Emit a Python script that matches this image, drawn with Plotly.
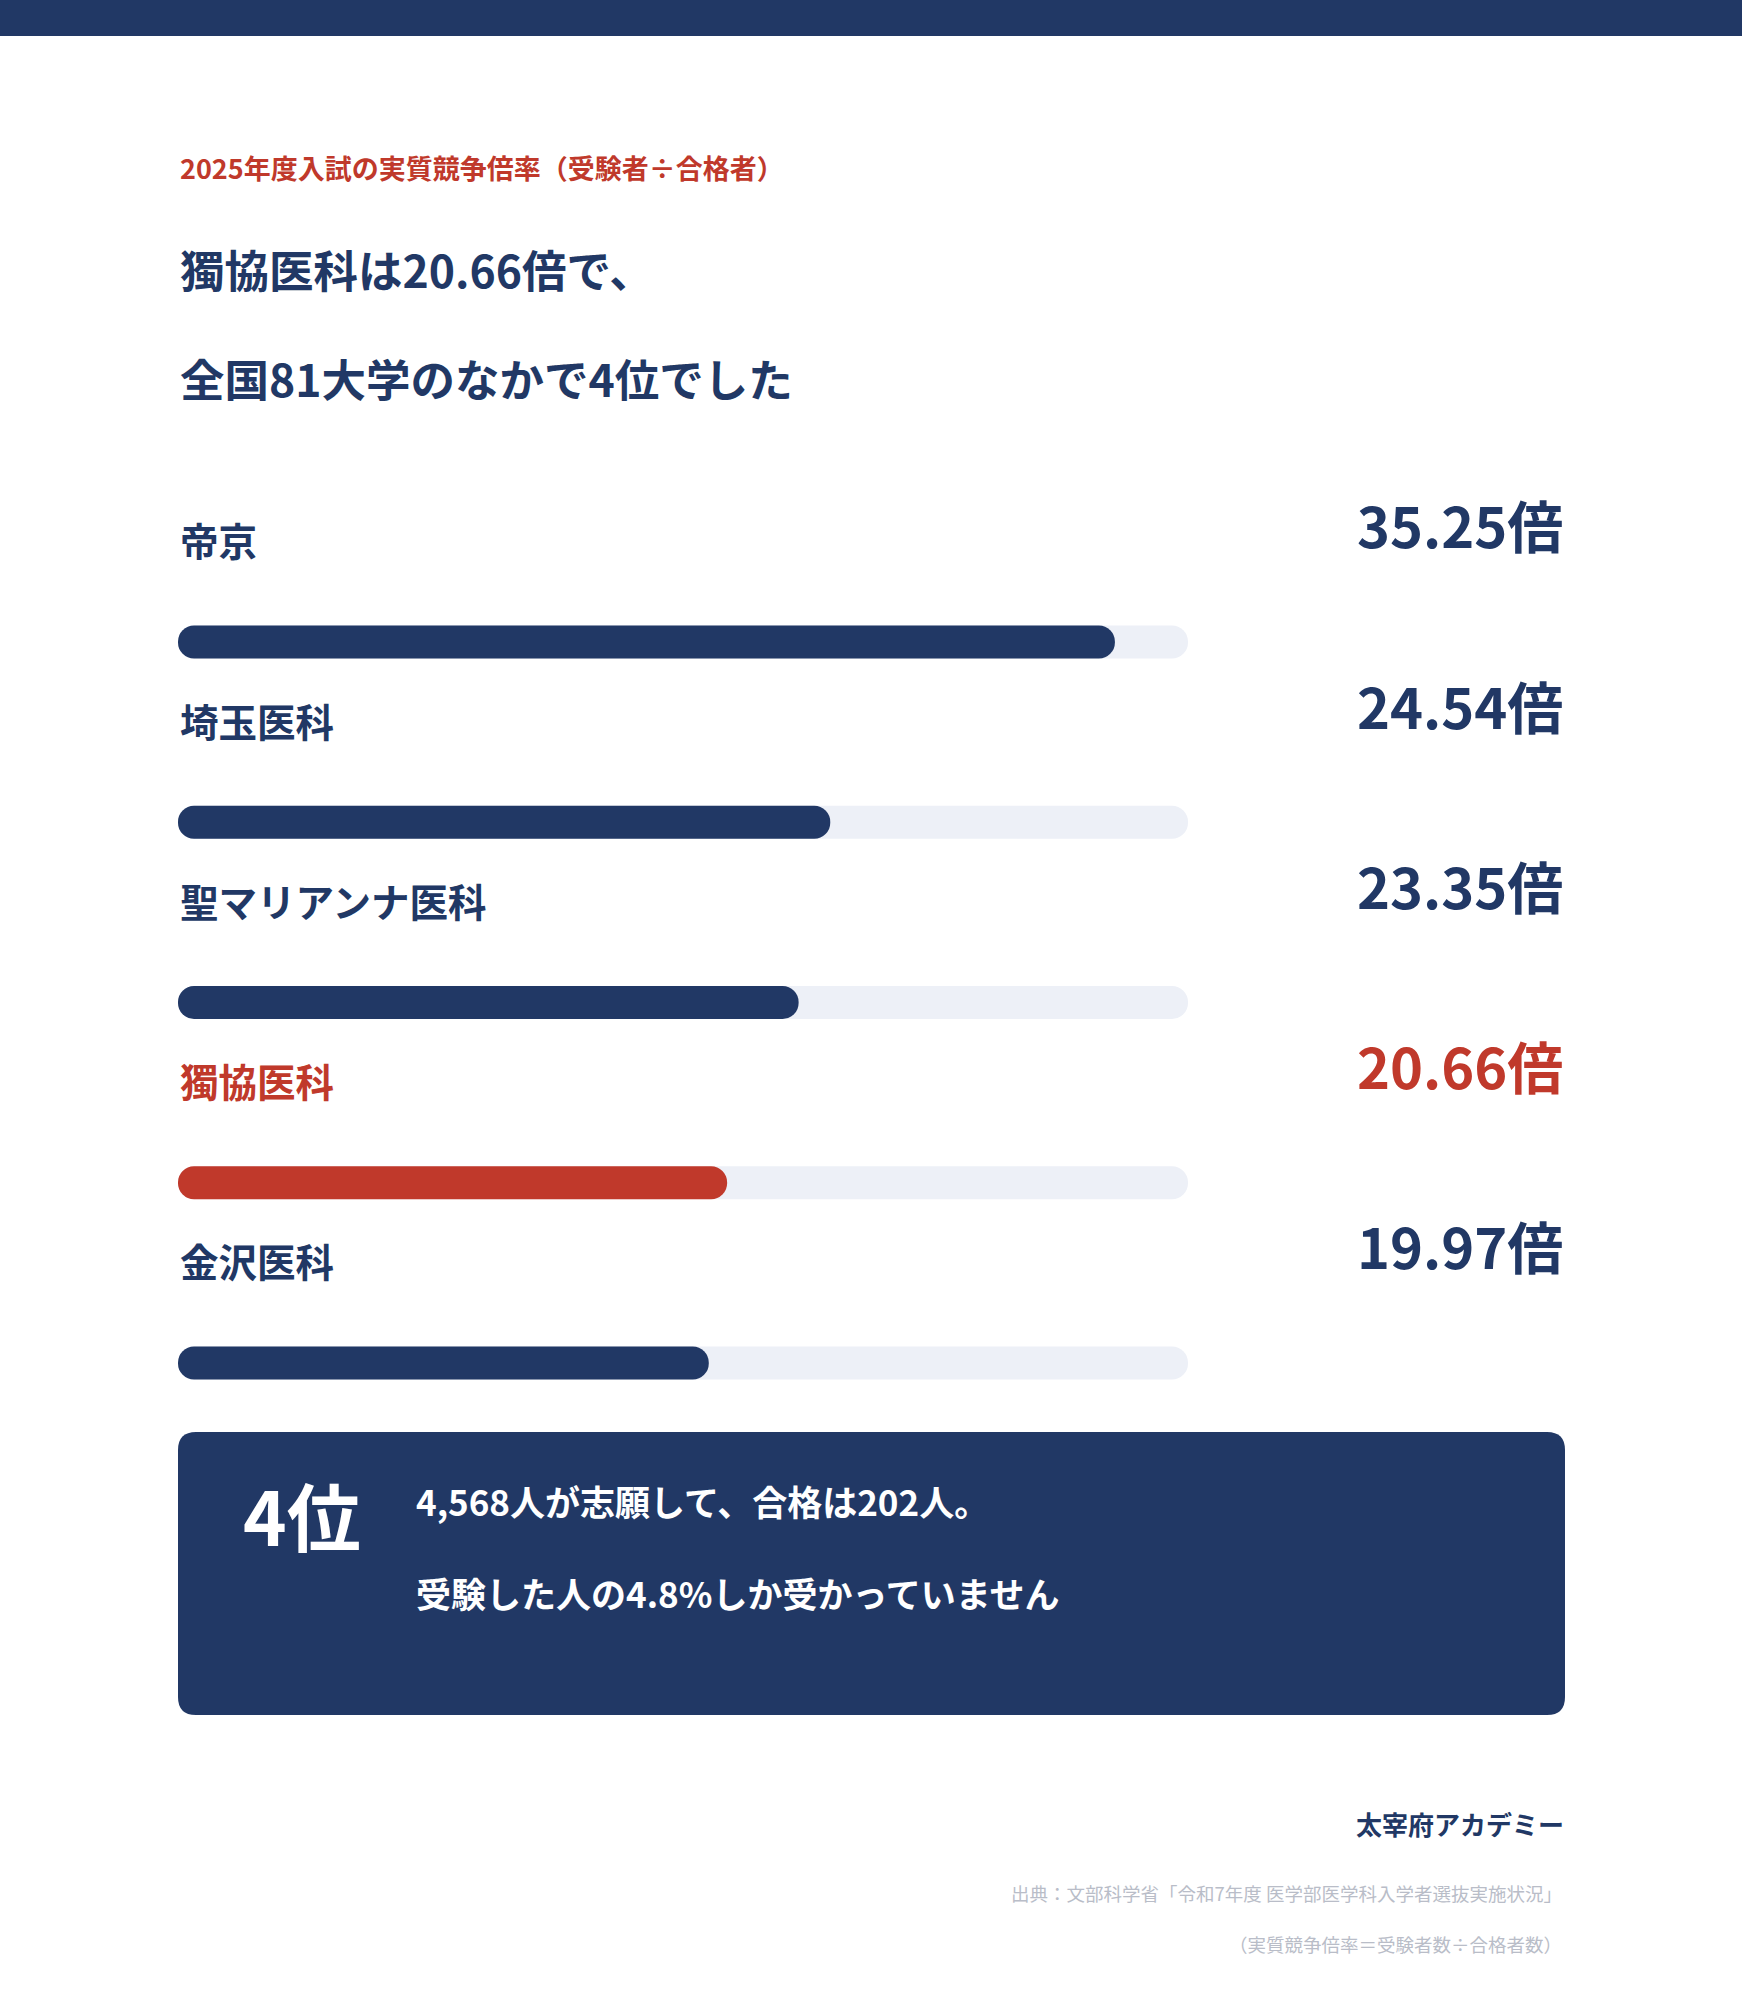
import plotly.graph_objects as go

# ---- data ----
universities = ["帝京", "埼玉医科", "聖マリアンナ医科", "獨協医科", "金沢医科"]
ratios = [35.25, 24.54, 23.35, 20.66, 19.97]
highlight = "獨協医科"
scale_max = 38

kicker = "2025年度入試の実質競争倍率（受験者÷合格者）"
headline = ["獨協医科は20.66倍で、", "全国81大学のなかで4位でした"]
rank_label = "4位"
box_lines = ["4,568人が志願して、合格は202人。", "受験した人の4.8%しか受かっていません"]
brand = "太宰府アカデミー"
sources = ["出典：文部科学省「令和7年度 医学部医学科入学者選抜実施状況」",
           "（実質競争倍率＝受験者数÷合格者数）"]

# ---- style ----
W, H = 1742, 2000
NAVY = "#213865"
RED = "#c0392b"
TRACK = "#edf0f7"
GRAY = "#b9bdc8"
FONT = "Noto Sans CJK JP"

X0, X1 = 178, 1188          # track pixel extent
ROW0, ROWSTEP = 642, 180.25  # first bar centre, row pitch (px)
BAR_PX = 33

bar_w = BAR_PX / ROWSTEP
n = len(universities)
rows = list(range(n))
colors = [RED if u == highlight else NAVY for u in universities]

Y_LO = -1.0
y_top_px = ROW0 + Y_LO * ROWSTEP
y_bot_px = ROW0 + (n - 0.5) * ROWSTEP

fig = go.Figure()

def pill(values, color):
    fig.add_trace(go.Bar(y=rows, x=values, base=[0] * n, orientation="h", width=bar_w,
                         marker=dict(color=color, cornerradius="50%", line=dict(width=0)),
                         hoverinfo="skip", showlegend=False))

pill([scale_max] * n, TRACK)   # background tracks
pill(ratios, colors)           # value bars

# hidden pixel axes for decoration
fig.add_trace(go.Scatter(x=[0, W], y=[0, H], xaxis="x2", yaxis="y2", mode="markers",
                         marker=dict(opacity=0), hoverinfo="skip", showlegend=False))

fig.update_layout(
    width=W, height=H, margin=dict(l=0, r=0, t=0, b=0),
    paper_bgcolor="white", plot_bgcolor="rgba(0,0,0,0)",
    barmode="overlay", font=dict(family=FONT, color=NAVY),
    xaxis=dict(domain=[X0 / W, X1 / W], range=[0, scale_max], visible=False, fixedrange=True),
    yaxis=dict(domain=[1 - y_bot_px / H, 1 - y_top_px / H], range=[n - 0.5, Y_LO],
               visible=False, fixedrange=True),
    xaxis2=dict(domain=[0, 1], range=[0, W], visible=False, anchor="y2", fixedrange=True),
    yaxis2=dict(domain=[0, 1], range=[H, 0], visible=False, anchor="x2", fixedrange=True),
)

shapes = [
    dict(type="rect", xref="x2", yref="y2", x0=0, x1=W, y0=0, y1=36,
         fillcolor=NAVY, line=dict(width=0), layer="below"),
]
bx0, bx1, by0, by1, rr = 178, 1565, 1432, 1715, 18
path = (f"M {bx0+rr},{by0} L {bx1-rr},{by0} Q {bx1},{by0} {bx1},{by0+rr} "
        f"L {bx1},{by1-rr} Q {bx1},{by1} {bx1-rr},{by1} L {bx0+rr},{by1} "
        f"Q {bx0},{by1} {bx0},{by1-rr} L {bx0},{by0+rr} Q {bx0},{by0} {bx0+rr},{by0} Z")
shapes.append(dict(type="path", xref="x2", yref="y2", path=path,
                   fillcolor=NAVY, line=dict(width=0), layer="below"))
fig.update_layout(shapes=shapes)

ann = []
def txt(x, y, s, size, color=NAVY, weight=700, xanchor="left", xref="x2", yref="y2"):
    ann.append(dict(x=x, y=y, xref=xref, yref=yref, text=s, showarrow=False,
                    xanchor=xanchor, yanchor="middle",
                    font=dict(family=FONT, size=size, color=color, weight=weight)))

txt(178, 167, kicker, 27, RED)
txt(178, 268, headline[0], 44.5)
txt(178, 377, headline[1], 44.5)

for i, (u, v, c) in enumerate(zip(universities, ratios, colors)):
    ann.append(dict(x=X0 / W, xref="paper", y=i - 0.569, yref="y", text=u, showarrow=False,
                    xanchor="left", yanchor="middle",
                    font=dict(family=FONT, size=38.5, color=c, weight=700)))
    ann.append(dict(x=1565 / W, xref="paper", y=i - 0.655, yref="y", text=f"{v:.2f}倍",
                    showarrow=False, xanchor="right", yanchor="middle",
                    font=dict(family=FONT, size=56, color=c, weight=700)))

txt(241, 1513, rank_label, 74, "white")
txt(414, 1500, box_lines[0], 35, "white")
txt(414, 1592, box_lines[1], 35, "white")

txt(1566, 1823, brand, 26, NAVY, xanchor="right")
txt(1564, 1893, sources[0], 18.5, GRAY, weight=400, xanchor="right")
txt(1564, 1944, sources[1], 18.5, GRAY, weight=400, xanchor="right")

fig.update_layout(annotations=ann)
fig.write_html("out.html", config={"displayModeBar": False},
               post_script="document.body.style.margin='0';document.body.style.padding='0';")
